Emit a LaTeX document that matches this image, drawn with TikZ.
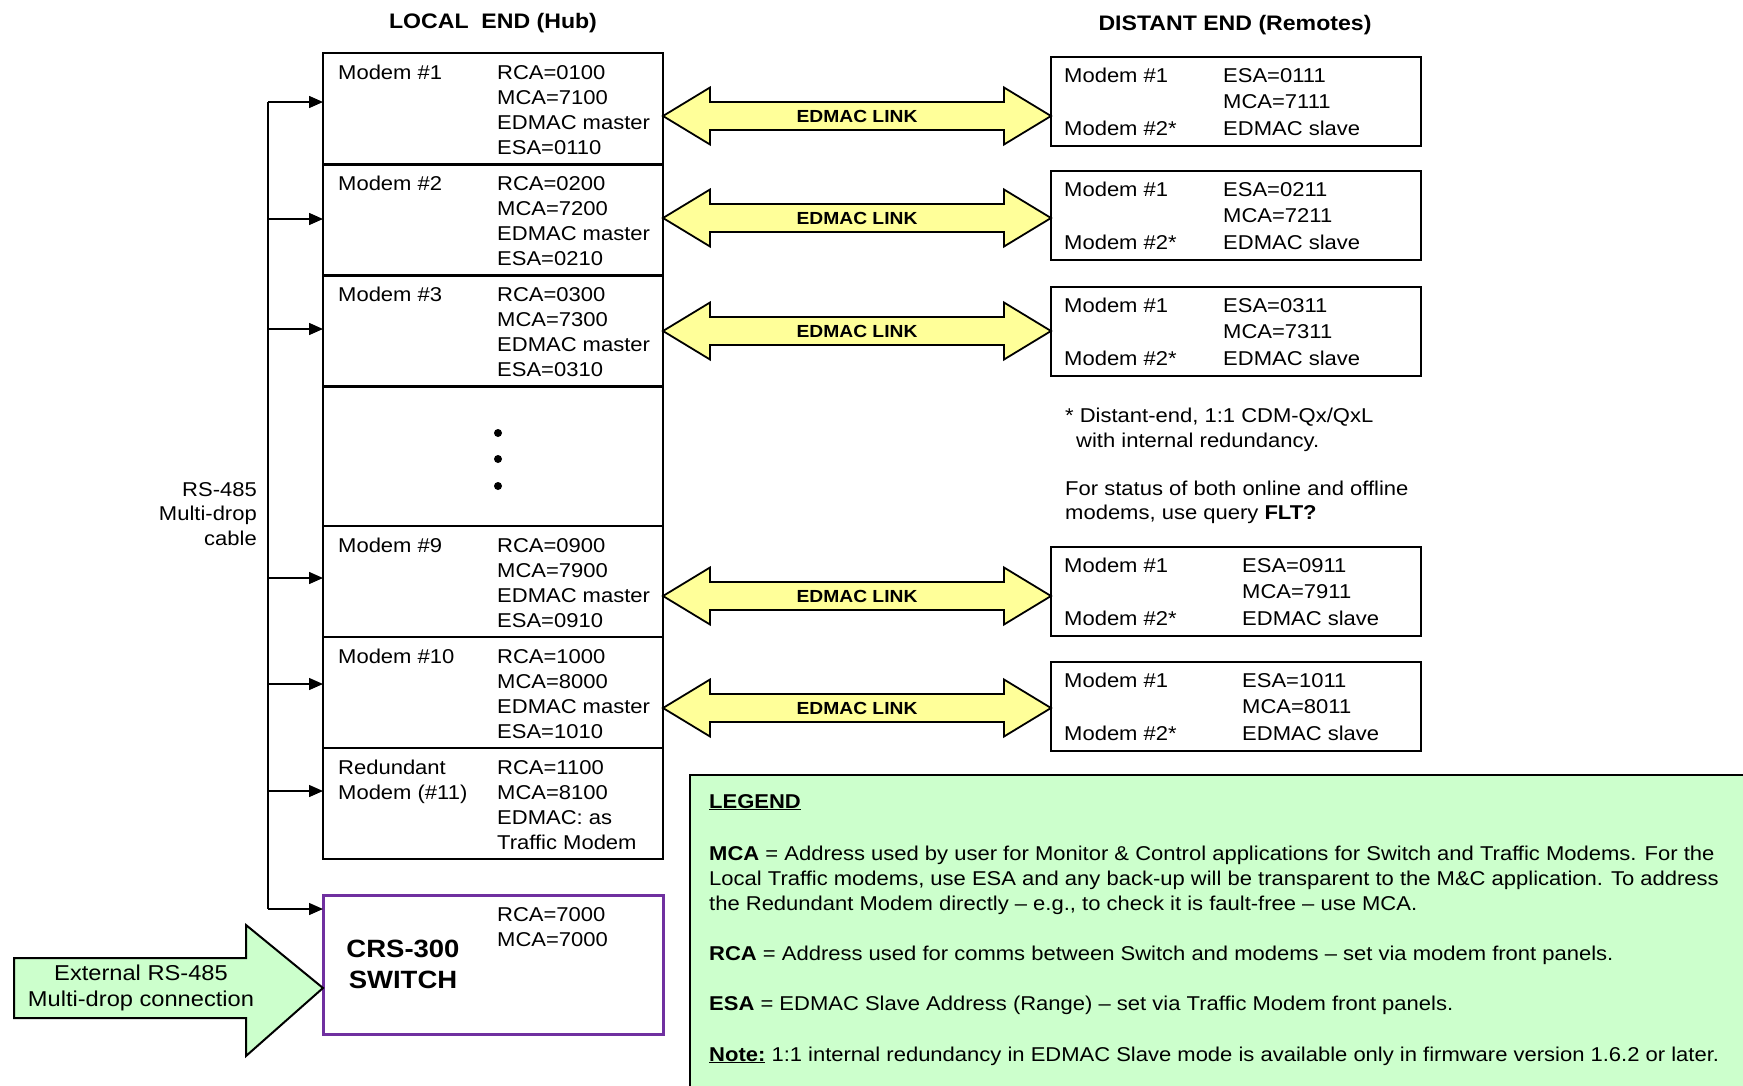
\documentclass[tikz,border=0pt]{standalone}
\usepackage{fontspec}
\setmainfont[FakeStretch=1.1]{Liberation Sans}
\usetikzlibrary{arrows.meta,calc,positioning}
\definecolor{linkyellow}{HTML}{FFFF99}
\definecolor{legendgreen}{HTML}{CCFFCC}
\definecolor{switchpurple}{HTML}{7030A0}

\tikzset{
    txt/.style={anchor=base west, inner sep=0pt, font=\fontsize{20}{25}\selectfont},
    rtxt/.style={txt, anchor=base east},
    title/.style={anchor=base, inner sep=0pt, font=\fontsize{21}{25}\selectfont\bfseries},
    lrow/.style={draw, line width=2.5pt, minimum width=340pt, anchor=north west,
                 inner sep=0pt, outer sep=0pt},
    rbox/.style={draw, line width=2.5pt, minimum width=370pt, minimum height=89pt,
                 anchor=north west, inner sep=0pt, outer sep=0pt},
    link/.style={draw, line width=1.8pt, fill=linkyellow, line join=miter},
    linktxt/.style={inner sep=0pt, font=\fontsize{17.5}{20}\selectfont\bfseries},
    feed/.style={line width=1.5pt, -{Triangle[length=14pt,width=12pt]}},
}

\begin{document}
\begin{tikzpicture}[x=1pt, y=-1pt]
    \useasboundingbox (0,0) rectangle (1743,1085);
    \clip (0,0) rectangle (1743,1085);

    % titles
    \node[title] (ltitle) at (493,28) {LOCAL~~END (Hub)};
    \node[title] (rtitle) at (1235,30) {DISTANT END (Remotes)};

    % local end rows
    \foreach \nm/\tp/\hgt in {l1/53/111.5, l2/164.5/111, l3/275.5/111, ldots/386.5/139.5,
                              l9/526/111, l10/637/111, l11/748/111}{
        \node[lrow, minimum height=\hgt pt] (\nm) at (323,\tp) {};
    }
    \foreach \nm/\num/\rca/\mca/\esa in {l1/1/0100/7100/0110, l2/2/0200/7200/0210,
                                          l3/3/0300/7300/0310, l9/9/0900/7900/0910,
                                          l10/10/1000/8000/1010}{
        \node[txt] at ($(\nm.north west)+(15,26)$) {Modem \#\num};
        \node[txt] at ($(\nm.north west)+(174,26)$) {RCA=\rca};
        \node[txt] at ($(\nm.north west)+(174,51)$) {MCA=\mca};
        \node[txt] at ($(\nm.north west)+(174,76)$) {EDMAC master};
        \node[txt] at ($(\nm.north west)+(174,101)$) {ESA=\esa};
    }
    \node[txt] at ($(l11.north west)+(15,26)$) {Redundant};
    \node[txt] at ($(l11.north west)+(15,51)$) {Modem (\#11)};
    \node[txt] at ($(l11.north west)+(174,26)$) {RCA=1100};
    \node[txt] at ($(l11.north west)+(174,51)$) {MCA=8100};
    \node[txt] at ($(l11.north west)+(174,76)$) {EDMAC: as};
    \node[txt] at ($(l11.north west)+(174,101)$) {Traffic Modem};
    \foreach \y in {433,459,486}
        \fill (498,\y) circle (4);

    % switch
    \node[lrow, draw=switchpurple, line width=3pt, minimum height=139pt] (sw) at (323,895) {};
    \node[inner sep=0pt, align=center, font=\fontsize{25}{31}\selectfont\bfseries]
        (swname) at (403,964) {CRS-300\\SWITCH};
    \node[txt] at ($(sw.north west)+(174,26)$) {RCA=7000};
    \node[txt] at ($(sw.north west)+(174,51)$) {MCA=7000};

    % RS-485 bus
    \coordinate (bus) at (268,102);
    \coordinate (busend) at (268,909);
    \draw[line width=1.5pt] (bus) -- (busend);
    \foreach \nm/\y in {l1/102, l2/219, l3/329, l9/578, l10/684, l11/791, sw/909}
        \draw[feed] (bus |- 0,\y) -- (\nm.west |- 0,\y);
    \node[rtxt] at (257,496) {RS-485};
    \node[rtxt] at (257,520) {Multi-drop};
    \node[rtxt] at (257,545) {cable};

    % external connection
    \draw[line width=2pt, fill=legendgreen, line join=miter]
        (sw.west |- 0,988) -- ++(-77,-63) -- ++(0,33) -- ++(-232,0) -- ++(0,60)
        -- ++(232,0) -- ++(0,38) -- cycle;
    \node[inner sep=0pt, align=center, font=\fontsize{21.5}{26}\selectfont]
        (ext) at (141,988) {External RS-485\\Multi-drop connection};

    % distant end boxes
    \foreach \nm/\tp/\esa/\mca/\dx in {r1/57/0111/7111/172, r2/171/0211/7211/172,
                                       r3/287/0311/7311/172, r9/547/0911/7911/191,
                                       r10/662/1011/8011/191}{
        \node[rbox] (\nm) at (1051,\tp) {};
        \node[txt] at ($(\nm.north west)+(13,25)$) {Modem \#1};
        \node[txt] at ($(\nm.north west)+(13,78)$) {Modem \#2*};
        \node[txt] at ($(\nm.north west)+(\dx,25)$) {ESA=\esa};
        \node[txt] at ($(\nm.north west)+(\dx,51)$) {MCA=\mca};
        \node[txt] at ($(\nm.north west)+(\dx,78)$) {EDMAC slave};
    }

    % EDMAC links
    \foreach \lr/\rr/\y in {l1/r1/116, l2/r2/218, l3/r3/331, l9/r9/596, l10/r10/708}{
        \draw[link] (\lr.east |- 0,\y) -- ++(47,-28.5) -- ++(0,14.5)
            -- ($(\rr.west |- 0,\y)+(-47,-14)$) -- ++(0,-14.5) -- (\rr.west |- 0,\y)
            -- ++(-47,28.5) -- ++(0,-14.5) -- ($(\lr.east |- 0,\y)+(47,14)$)
            -- ++(0,14.5) -- cycle;
        \node[linktxt] at ($(\lr.east |- 0,\y)!.5!(\rr.west |- 0,\y)$) {EDMAC LINK};
    }

    % notes
    \node[txt] at (1065,422) {* Distant-end, 1:1 CDM-Qx/QxL};
    \node[txt] at (1076,447) {with internal redundancy.};
    \node[txt] at (1065,495) {For status of both online and offline};
    \node[txt] at (1065,519) {modems, use query \textbf{FLT?}};

    % legend
    \draw[line width=2.5pt, fill=legendgreen] (690,775) rectangle (1760,1100);
    \node[txt] at (709,808) {\underline{\textbf{LEGEND}}};
    \node[txt] at (709,860) {\textbf{MCA} = Address used by user for Monitor \& Control applications for Switch and Traffic Modems. For the};
    \node[txt] at (709,885) {Local Traffic modems, use ESA and any back-up will be transparent to the M\&C application. To address};
    \node[txt] at (709,910) {the Redundant Modem directly – e.g., to check it is fault-free – use MCA.};
    \node[txt] at (709,960) {\textbf{RCA} = Address used for comms between Switch and modems – set via modem front panels.};
    \node[txt] at (709,1010) {\textbf{ESA} = EDMAC Slave Address (Range) – set via Traffic Modem front panels.};
    \node[txt] at (709,1061) {\underline{\textbf{Note:}} 1:1 internal redundancy in EDMAC Slave mode is available only in firmware version 1.6.2 or later.};
\end{tikzpicture}
\end{document}
